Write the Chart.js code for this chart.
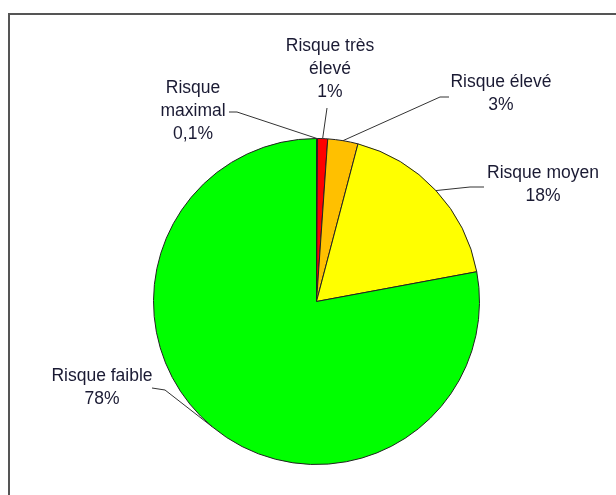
<!DOCTYPE html>
<html>
<head>
<meta charset="utf-8">
<script src="https://cdn.jsdelivr.net/npm/chart.js@4"></script>
<style>
  html, body { margin: 0; padding: 0; background: #fff; }
  #wrap { position: relative; width: 616px; height: 495px; }
</style>
</head>
<body>
<div id="wrap"><canvas id="pie" width="616" height="495"></canvas></div>
<script>
// catégories et valeurs (%)
const categories = ['Risque maximal', 'Risque très élevé', 'Risque élevé', 'Risque moyen', 'Risque faible'];
const values = [0.1, 1, 3, 18, 78];
const valueLabels = ['0,1%', '1%', '3%', '18%', '78%'];

const colors = ['#8B0000', '#FF0000', '#FFC000', '#FFFF00', '#00FF00'];

// placement des étiquettes (coude de la ligne, fin de ligne, lignes de texte)
const labelLayout = [
  { elbow: [237, 112], end: [229, 112], text: [193, 88], lines: ['Risque', 'maximal'] },
  { elbow: [326, 115], end: [327, 108], text: [330, 46], lines: ['Risque très', 'élevé'] },
  { elbow: [440, 97], end: [449, 97], text: [501, 82], lines: ['Risque élevé'] },
  { elbow: [470, 187], end: [484, 187], text: [543, 173], lines: ['Risque moyen'] },
  { elbow: [165, 390], end: [152, 388], text: [102, 376], lines: ['Risque faible'] }
];

const labelsPlugin = {
  id: 'outLabels',
  beforeDraw(chart) {
    const ctx = chart.ctx;
    ctx.save();
    ctx.strokeStyle = '#555';
    ctx.lineWidth = 2;
    ctx.strokeRect(9, 14, 700, 600);
    ctx.restore();
  },
  afterDatasetsDraw(chart) {
    const ctx = chart.ctx;
    const meta = chart.getDatasetMeta(0);
    ctx.save();
    meta.data.forEach((arc, i) => {
      const p = arc.getProps(['x', 'y', 'startAngle', 'endAngle', 'outerRadius'], true);
      const mid = (p.startAngle + p.endAngle) / 2;
      const ax = p.x + Math.cos(mid) * p.outerRadius;
      const ay = p.y + Math.sin(mid) * p.outerRadius;
      const lay = labelLayout[i];
      ctx.strokeStyle = '#333';
      ctx.lineWidth = 1;
      ctx.beginPath();
      ctx.moveTo(ax, ay);
      ctx.lineTo(lay.elbow[0], lay.elbow[1]);
      ctx.lineTo(lay.end[0], lay.end[1]);
      ctx.stroke();

      ctx.fillStyle = '#1a1a33';
      ctx.font = '17.5px "Liberation Sans", Arial, sans-serif';
      ctx.textAlign = 'center';
      ctx.textBaseline = 'middle';
      const lines = lay.lines.concat([valueLabels[i]]);
      lines.forEach((t, k) => {
        ctx.fillText(t, lay.text[0], lay.text[1] + k * 23);
      });
    });
    ctx.restore();
  }
};

new Chart(document.getElementById('pie'), {
  type: 'pie',
  data: {
    labels: categories,
    datasets: [{
      data: values,
      backgroundColor: colors,
      borderColor: '#222',
      borderWidth: 1
    }]
  },
  options: {
    responsive: false,
    animation: false,
    layout: { padding: { top: 138, bottom: 30, left: 153, right: 136 } },
    plugins: {
      legend: { display: false },
      tooltip: { enabled: false }
    }
  },
  plugins: [labelsPlugin]
});
</script>
</body>
</html>
